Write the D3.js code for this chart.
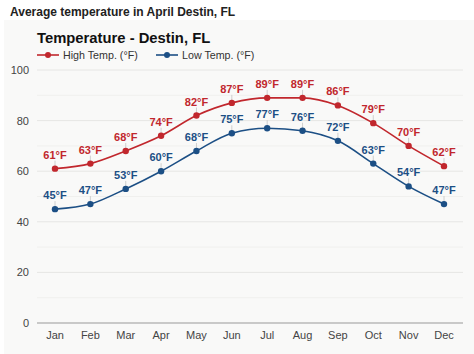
<!DOCTYPE html>
<html><head><meta charset="utf-8">
<script src="https://cdn.jsdelivr.net/npm/d3@7"></script>
<style>
body{margin:0;background:#fff;font-family:"Liberation Sans",Arial,sans-serif;}
</style></head><body>
<svg id="c" width="474" height="354"></svg>
<script>
const months = ["Jan","Feb","Mar","Apr","May","Jun","Jul","Aug","Sep","Oct","Nov","Dec"];
const highTemps = [61,63,68,74,82,87,89,89,86,79,70,62];
const lowTemps = [45,47,53,60,68,75,77,76,72,63,54,47];
const yTicks = [0,20,40,60,80,100];
const yMinorTicks = [10,30,50,70,90];
const seriesNames = ["High Temp. (°F)","Low Temp. (°F)"];
const seriesColors = ["#c1272d","#1c4f85"];

const svg = d3.select("#c");
svg.append("rect").attr("x",4).attr("y",20).attr("width",470).attr("height",334).attr("fill","#f9f9f8");
svg.append("text").attr("x",10).attr("y",16).attr("font-size",12).attr("font-weight","bold").attr("fill","#222")
  .text("Average temperature in April Destin, FL");
svg.append("text").attr("x",37).attr("y",43).attr("font-size",14.8).attr("font-weight","bold").attr("fill","#111")
  .text("Temperature - Destin, FL");

const x = d3.scalePoint().domain(months).range([55,444]);
const y = d3.scaleLinear().domain([0,100]).range([323,70]);
const x0 = 37, x1 = 463;

const g = svg.append("g");
g.selectAll(".minor").data(yMinorTicks).join("line")
  .attr("x1",x0).attr("x2",x1).attr("y1",d=>y(d)).attr("y2",d=>y(d)).attr("stroke","#f0f0ee").attr("stroke-width",1);
g.selectAll(".major").data(yTicks.filter(d=>d>0)).join("line")
  .attr("x1",x0).attr("x2",x1).attr("y1",d=>y(d)).attr("y2",d=>y(d)).attr("stroke","#e6e6e4").attr("stroke-width",1);
g.append("line").attr("x1",x0).attr("x2",x1).attr("y1",y(0)).attr("y2",y(0)).attr("stroke","#999").attr("stroke-width",1);

g.selectAll(".yl").data(yTicks).join("text")
  .attr("x",29).attr("y",d=>y(d)+4).attr("text-anchor","end").attr("font-size",11).attr("fill","#444").text(d=>d);
g.selectAll(".xl").data(months).join("text")
  .attr("x",d=>x(d)).attr("y",339).attr("text-anchor","middle").attr("font-size",11).attr("fill","#444").text(d=>d);

const line = d3.line().x((d,i)=>x(months[i])).y(d=>y(d)).curve(d3.curveMonotoneX);
[highTemps,lowTemps].forEach((vals,si)=>{
  const col = seriesColors[si];
  const s = svg.append("g");
  s.selectAll(".tk").data(vals).join("line")
    .attr("x1",(d,i)=>x(months[i])).attr("x2",(d,i)=>x(months[i]))
    .attr("y1",d=>y(d)-8).attr("y2",d=>y(d)-2).attr("stroke","#c4c4c4").attr("stroke-width",0.8);
  s.append("path").attr("d",line(vals)).attr("fill","none").attr("stroke",col).attr("stroke-width",1.6);
  s.selectAll("circle").data(vals).join("circle")
    .attr("cx",(d,i)=>x(months[i])).attr("cy",d=>y(d)).attr("r",3.2).attr("fill",col);
  s.selectAll(".lbl").data(vals).join("text")
    .attr("x",(d,i)=>x(months[i])).attr("y",d=>y(d)-10).attr("text-anchor","middle")
    .attr("font-size",11).attr("font-weight","bold").attr("fill",col).text(d=>d+"°F");
});

// legend
const legX = [37,156];
seriesNames.forEach((n,i)=>{
  const lg = svg.append("g");
  lg.append("line").attr("x1",legX[i]).attr("x2",legX[i]+22).attr("y1",55).attr("y2",55).attr("stroke",seriesColors[i]).attr("stroke-width",1.6);
  lg.append("circle").attr("cx",legX[i]+11).attr("cy",55).attr("r",3).attr("fill",seriesColors[i]);
  lg.append("text").attr("x",legX[i]+26).attr("y",59).attr("font-size",10.7).attr("fill","#333").text(n);
});
</script></body></html>
